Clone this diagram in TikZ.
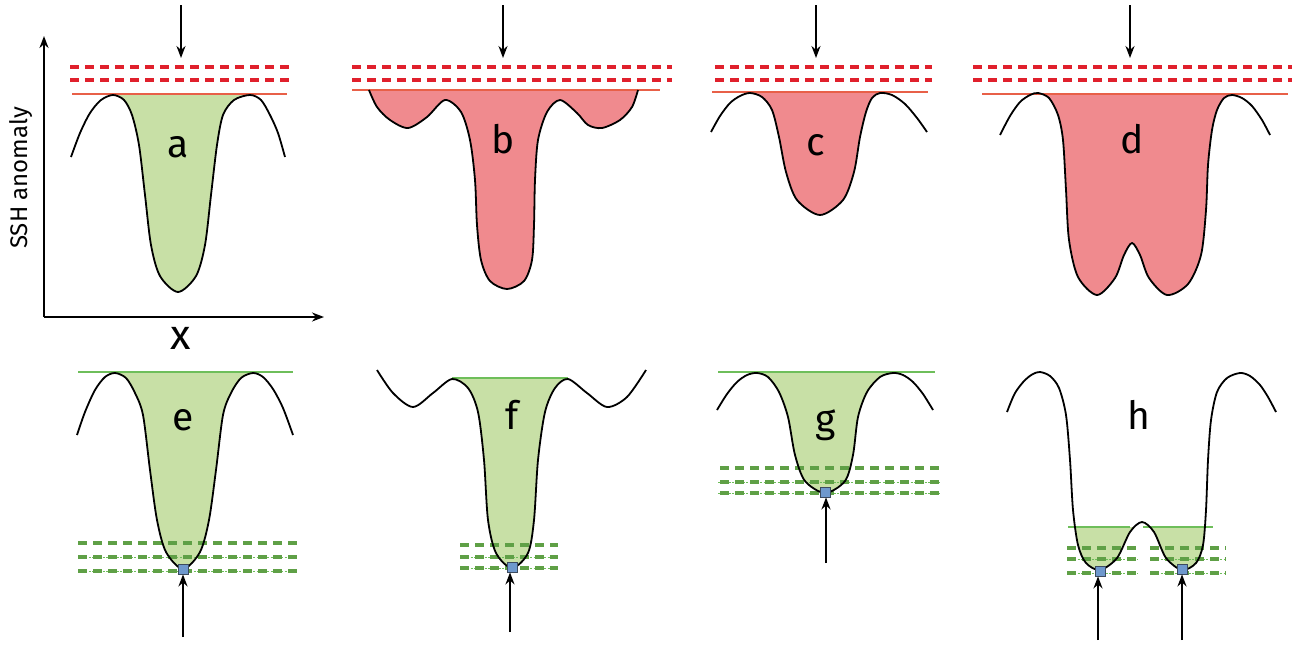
\documentclass[tikz,border=0pt]{standalone}
\usepackage{fontspec}
\setmainfont{Fira Sans}
\usetikzlibrary{arrows.meta}
\definecolor{redd}{RGB}{224,32,44}
\definecolor{redline}{RGB}{232,96,72}
\definecolor{pinkfill}{RGB}{240,138,142}
\definecolor{greenfill}{RGB}{200,224,166}
\definecolor{greenline}{RGB}{110,190,90}
\definecolor{greend}{RGB}{95,160,70}
\definecolor{bluesq}{RGB}{110,152,205}
\definecolor{bluebd}{RGB}{60,75,95}
\begin{document}
\begin{tikzpicture}[x=1pt,y=-1pt,
 curve/.style={line width=1.8pt, draw=black, line join=round},
 reddash/.style={draw=redd, line width=4.2pt, dash pattern=on 9pt off 6pt},
 greendash/.style={draw=greend, line width=4.5pt, dash pattern=on 9pt off 6pt},
 greendot/.style={draw=greenline, line width=0.8pt, dash pattern=on 2pt off 1.5pt},
 redtop/.style={draw=redline, line width=1.5pt},
 greentop/.style={draw=greenline, line width=1.5pt},
 arr/.style={line width=2pt, -{Stealth[length=12pt,width=9pt]}},
 lbl/.style={font=\fontsize{39}{39}\selectfont, inner sep=0pt},
 sq/.style={draw=bluebd, fill=bluesq, line width=0.8pt, minimum size=10pt, inner sep=0pt, rectangle},
]
\useasboundingbox (0,0) rectangle (1297,646);

\def\curveA{plot[smooth] coordinates {(71,157) (80,133) (90,113) (101,100) (113,95) (124,100) (132,115) (139,145) (145,195) (151,245) (160,276) (178,292) (196,276) (205,245) (211,195) (217,145) (223,115) (234,100) (250,95) (261,100) (270,115) (278,133) (285,157)}}
\def\curveB{plot[smooth] coordinates {(369,90) (377,107) (390,120) (408,128) (427,117) (445,100) (461,112) (470,140) (475,180) (477,225) (481,260) (490,281) (507,289) (524,281) (532,260) (534,225) (535,180) (538,140) (547,112) (560,100) (577,113) (588,125) (602,128) (620,120) (632,107) (638,90)}}
\def\curveC{plot[smooth] coordinates {(711,132) (720,116) (730,103) (740,96) (750,93) (762,97) (772,110) (779,137) (786,172) (797,200) (820,215) (843,200) (854,172) (860,137) (866,112) (872,98) (880,93) (892,95) (905,104) (917,118) (927,132)}}
\def\curveD{plot[smooth] coordinates {(1000,135) (1010,116) (1020,102) (1030,95) (1038,93) (1049,98) (1058,115) (1063,140) (1066,190) (1069,240) (1078,277) (1097,295) (1115,278) (1124,255) (1132,243) (1140,255) (1149,278) (1167,295) (1188,284) (1201,255) (1206,210) (1208,165) (1212,130) (1217,110) (1224,98) (1232,95) (1242,98) (1252,106) (1262,120) (1270,135)}}
\def\curveE{plot[smooth] coordinates {(77,435) (85,412) (95,390) (105,377) (115,373) (126,378) (135,393) (143,415) (150,470) (157,520) (166,552) (183,569) (200,552) (209,520) (216,470) (223,415) (231,393) (241,378) (253,373) (263,377) (273,389) (283,408) (293,435)}}
\def\curveF{plot[smooth] coordinates {(377,370) (393,393) (413,407) (433,393) (452,379) (468,388) (478,412) (484,460) (488,520) (496,553) (512,568) (528,553) (534,520) (538,460) (545,412) (555,388) (568,379) (587,393) (607,407) (627,397) (646,370)}}
\def\curveG{plot[smooth] coordinates {(717,410) (727,394) (737,382) (747,375) (757,373) (768,377) (779,392) (788,417) (795,455) (805,481) (825,493) (845,481) (853,455) (858,417) (867,392) (880,377) (893,373) (903,375) (913,382) (923,394) (933,410)}}
\def\curveH{plot[smooth] coordinates {(1007,412) (1015,393) (1025,380) (1033,374) (1040,372) (1050,376) (1059,388) (1066,415) (1070,460) (1073,510) (1078,545) (1086,563) (1100,570) (1117,558) (1130,532) (1142,522) (1154,532) (1166,558) (1182,570) (1196,563) (1203,545) (1206,510) (1208,460) (1211,420) (1217,392) (1227,378) (1240,373) (1250,376) (1260,385) (1268,397) (1276,412)}}

% ---------- fills ----------
\begin{scope}
 \clip \curveA -- (285,40) -- (71,40) -- cycle;
 \fill[greenfill] (113,94) rectangle (250,300);
\end{scope}
\fill[pinkfill] \curveB -- cycle;
\begin{scope}
 \clip \curveC -- (927,40) -- (711,40) -- cycle;
 \fill[pinkfill] (750,92) rectangle (880,230);
\end{scope}
\begin{scope}
 \clip \curveD -- (1270,40) -- (1000,40) -- cycle;
 \fill[pinkfill] (1038,93) rectangle (1232,300);
\end{scope}
\begin{scope}
 \clip \curveE -- (293,340) -- (77,340) -- cycle;
 \fill[greenfill] (115,372) rectangle (253,580);
\end{scope}
\begin{scope}
 \clip \curveF -- (646,340) -- (377,340) -- cycle;
 \fill[greenfill] (452,378) rectangle (568,580);
\end{scope}
\begin{scope}
 \clip \curveG -- (933,340) -- (717,340) -- cycle;
 \fill[greenfill] (757,372) rectangle (893,500);
\end{scope}
\begin{scope}
 \clip \curveH -- (1276,340) -- (1007,340) -- cycle;
 \fill[greenfill] (1060,527) rectangle (1220,580);
\end{scope}

% ---------- top lines ----------
\draw[redtop] (72,94) -- (287,94);
\draw[redtop] (352,90) -- (660,90);
\draw[redtop] (712,92) -- (928,92);
\draw[redtop] (982,94) -- (1288,94);
\draw[greentop] (78,372) -- (293,372);
\draw[greentop] (452,378) -- (568,378);
\draw[greentop] (718,372) -- (935,372);
\draw[greentop] (1068,527) -- (1130,527);
\draw[greentop] (1143,527) -- (1213,527);

% ---------- red dashed levels ----------
\foreach \yy in {67,80} {
 \draw[reddash] (70,\yy) -- (292,\yy);
 \draw[reddash] (352,\yy) -- (672,\yy);
 \draw[reddash] (715,\yy) -- (932,\yy);
 \draw[reddash] (973,\yy) -- (1292,\yy);
}

% ---------- green dashed levels ----------
\draw[greendash] (78,543) -- (298,543);
\foreach \yy in {557,571} {
 \draw[greendot] (78,\yy) -- (298,\yy);
 \draw[greendash] (78,\yy) -- (298,\yy);
}
\draw[greendash] (460,545) -- (558,545);
\foreach \yy in {557,568} {
 \draw[greendot] (460,\yy) -- (558,\yy);
 \draw[greendash] (460,\yy) -- (558,\yy);
}
\draw[greendash] (720,468) -- (940,468);
\foreach \yy in {482,493} {
 \draw[greendot] (718,\yy) -- (940,\yy);
 \draw[greendash] (720,\yy) -- (940,\yy);
}
\draw[greendash] (1067,548) -- (1138,548);
\draw[greendash] (1150,548) -- (1226,548);
\foreach \yy in {559,573} {
 \draw[greendot] (1067,\yy) -- (1138,\yy);
 \draw[greendash] (1067,\yy) -- (1138,\yy);
 \draw[greendot] (1150,\yy) -- (1226,\yy);
 \draw[greendash] (1150,\yy) -- (1226,\yy);
}

% ---------- curves ----------
\draw[curve] \curveA;
\draw[curve] \curveB;
\draw[curve] \curveC;
\draw[curve] \curveD;
\draw[curve] \curveE;
\draw[curve] \curveF;
\draw[curve] \curveG;
\draw[curve] \curveH;

% ---------- minima markers ----------
\node[sq] (se) at (183,569) {};
\node[sq] (sf) at (512,567) {};
\node[sq] (sg) at (825,492) {};
\node[sq] (sh1) at (1100,571) {};
\node[sq] (sh2) at (1182,569) {};

% ---------- axes ----------
\coordinate (org) at (44,317);
\coordinate (ytip) at (44,36);
\coordinate (xtip) at (324,317);
\draw[arr] (org) -- (ytip);
\draw[arr] (org) -- (xtip);
\node[rotate=90, font=\fontsize{24}{24}\selectfont, inner sep=0pt] (ylab) at (21,178) {SSH anomaly};
\node[font=\fontsize{42}{42}\selectfont, inner sep=0pt] (xlab) at (181,338) {x};

% ---------- arrows ----------
\coordinate (a1) at (181,5);   \coordinate (a2) at (181,58);
\coordinate (b1) at (503,5);   \coordinate (b2) at (503,58);
\coordinate (c1) at (816,5);   \coordinate (c2) at (816,58);
\coordinate (d1) at (1130,5);  \coordinate (d2) at (1130,58);
\draw[arr] (a1) -- (a2);
\draw[arr] (b1) -- (b2);
\draw[arr] (c1) -- (c2);
\draw[arr] (d1) -- (d2);
\coordinate (e1) at (183,637);
\coordinate (f1) at (510,632);
\coordinate (g1) at (826,563);
\coordinate (h1) at (1098,640);
\coordinate (h2) at (1182,640);
\draw[arr] (e1) -- (se.south);
\draw[arr] (f1) -- ([xshift=-2pt]sf.south);
\draw[arr] (g1) -- ([xshift=1pt]sg.south);
\draw[arr] (h1) -- ([xshift=-2pt]sh1.south);
\draw[arr] (h2) -- (sh2.south);

% ---------- labels ----------
\node[lbl] (la) at (178,147) {a};
\node[lbl] (lb) at (503,139) {b};
\node[lbl] (lc) at (816,145) {c};
\node[lbl] (ld) at (1132,139) {d};
\node[lbl] (le) at (183,420) {e};
\node[lbl] (lf) at (512,415) {f};
\node[lbl] (lg) at (826,425) {g};
\node[lbl] (lh) at (1139,415) {h};
\end{tikzpicture}
\end{document}
